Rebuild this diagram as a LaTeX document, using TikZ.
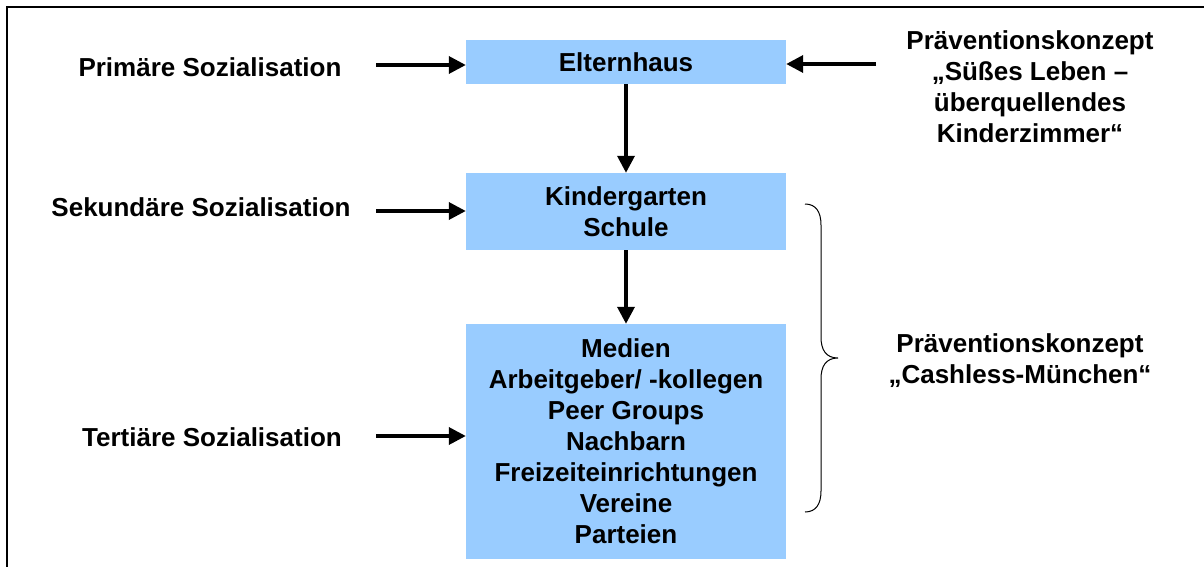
\documentclass[tikz,border=0pt]{standalone}
\usepackage{fontspec}
\setmainfont{Liberation Sans}
\usetikzlibrary{arrows.meta}
\definecolor{boxblue}{HTML}{99CCFF}
\begin{document}
\begin{tikzpicture}[x=1pt,y=-1pt,
  every node/.style={font=\fontsize{26}{31}\selectfont\bfseries},
  box/.style={fill=boxblue,minimum width=320pt,align=center,inner sep=0pt},
  lbl/.style={align=center},
  arr/.style={line width=3.5pt,-{Triangle[length=17pt,width=17pt]}}]
  \useasboundingbox (0,0) rectangle (1204,567);
  \draw[line width=2pt] (1204,7) -- (7,7) -- (7,567);
  % boxes
  \node[box,minimum height=44pt] (eltern) at (626,62) {Elternhaus};
  \node[box,minimum height=77pt] (kiga) at (626,211.5) {Kindergarten\\Schule};
  \node[box,minimum height=235pt] (medien) at (626,441.5)
    {Medien\\Arbeitgeber/ -kollegen\\Peer Groups\\Nachbarn\\Freizeiteinrichtungen\\Vereine\\Parteien};
  \draw[arr] (eltern) -- (kiga);
  \draw[arr] (kiga) -- (medien);
  % left labels
  \node (prim) at (210,67) {Primäre Sozialisation};
  \node (sek) at (201,207) {Sekundäre Sozialisation};
  \node (tert) at (212,437) {Tertiäre Sozialisation};
  \coordinate (a1) at (376,65);
  \coordinate (a2) at (376,211);
  \coordinate (a3) at (376,436);
  \draw[arr] (a1) -- (eltern.west |- a1);
  \draw[arr] (a2) -- (kiga.west |- a2);
  \draw[arr] (a3) -- (medien.west |- a3);
  % right side
  \node[lbl] (suess) at (1030,87) {Präventionskonzept\\„Süßes Leben –\\überquellendes\\Kinderzimmer“};
  \coordinate (a4) at (876,64);
  \draw[arr] (a4) -- (eltern.east |- a4);
  \draw[line width=1pt] (805,204) .. controls (816,204) and (821,212) .. (821,225)
    -- (821,337) .. controls (821,350) and (826,358) .. (838,358)
    .. controls (826,358) and (821,366) .. (821,379)
    -- (821,491) .. controls (821,504) and (816,512) .. (805,512);
  \node[lbl] (cash) at (1020,361) {Präventionskonzept\\„Cashless-München“};
\end{tikzpicture}
\end{document}
